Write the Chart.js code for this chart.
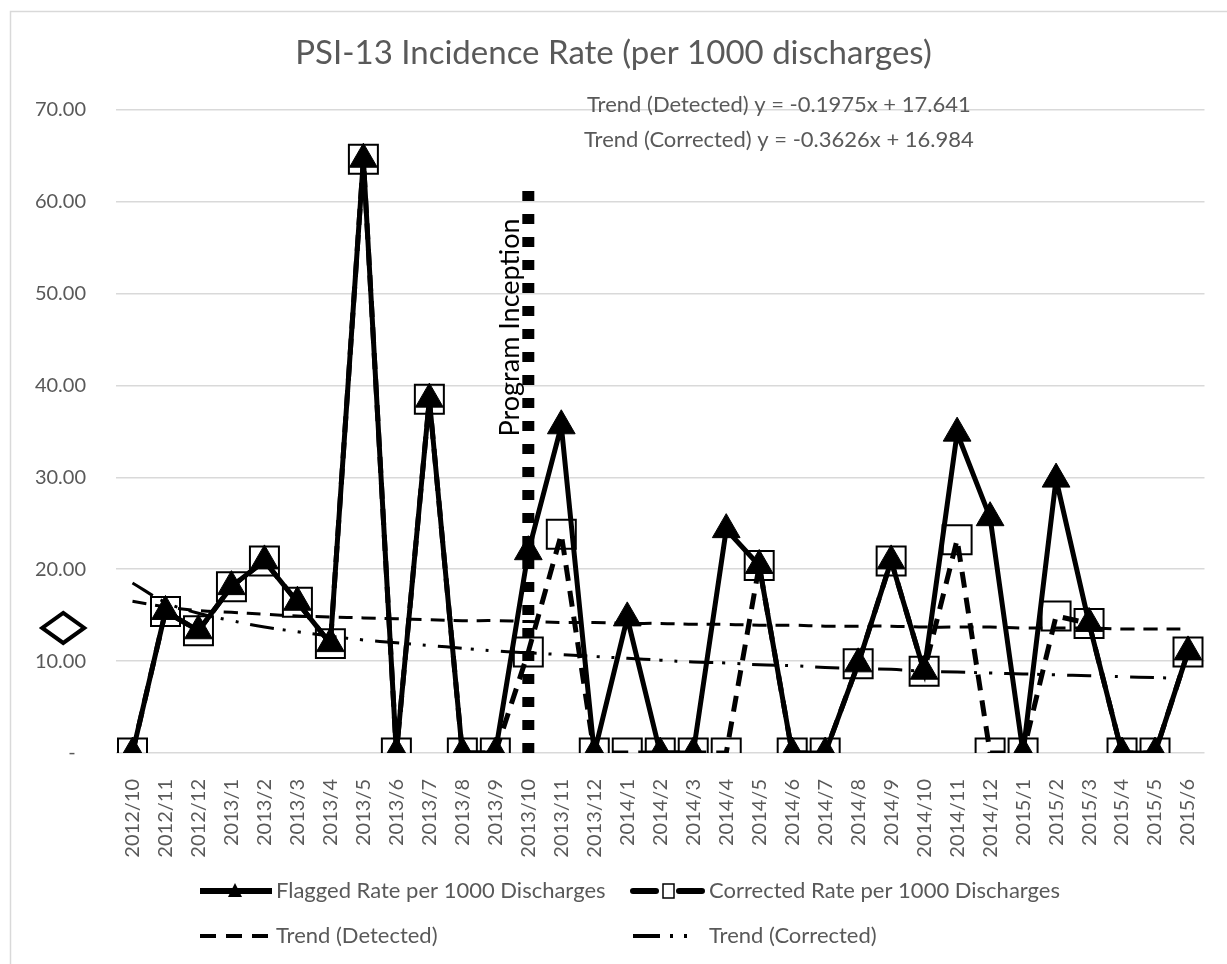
<!DOCTYPE html>
<html>
<head>
<meta charset="utf-8">
<script src="https://cdn.jsdelivr.net/npm/chart.js@4"></script>
<style>
html,body{margin:0;padding:0;background:#fff;}
</style>
</head>
<body>
<canvas id="myChart" width="1227" height="964"></canvas>
<script>
//月のラベル
var months = ['2012/10','2012/11','2012/12','2013/1','2013/2','2013/3','2013/4','2013/5','2013/6','2013/7','2013/8','2013/9',
  '2013/10','2013/11','2013/12','2014/1','2014/2','2014/3','2014/4','2014/5','2014/6','2014/7','2014/8','2014/9',
  '2014/10','2014/11','2014/12','2015/1','2015/2','2015/3','2015/4','2015/5','2015/6'];
//Flagged (triangles)
var flagged_rate = [0, 15.4, 13.3, 18.1, 20.9, 16.4, 11.9, 64.6, 0, 38.5,
  0, 0, 21.9, 35.6, 0, 14.7, 0, 0, 24.3, 20.4,
  0, 0, 9.7, 20.9, 8.9, 34.8, 25.6, 0, 29.8, 14.1,
  0, 0, 11.0];
//Corrected (squares)
var corrected_rate = [0, 15.4, 13.3, 18.1, 20.9, 16.4, 11.9, 64.6, 0, 38.5,
  0, 0, 11.0, 23.8, 0, 0, 0, 0, 0, 20.4,
  0, 0, 9.7, 20.9, 8.9, 23.2, 0, 0, 14.9, 14.1,
  0, 0, 11.0];
//trend lines
var trend_detected = [16.5, 15.9, 15.5, 15.3, 15.1, 14.9, 14.8, 14.7, 14.6, 14.5,
  14.4, 14.4, 14.3, 14.2, 14.2, 14.1, 14.1, 14.0, 14.0, 13.9,
  13.9, 13.8, 13.8, 13.8, 13.7, 13.7, 13.7, 13.6, 13.6, 13.6,
  13.5, 13.5, 13.5];
var trend_corrected = [18.5, 16.4, 15.2, 14.4, 13.7, 13.2, 12.7, 12.3, 12.0, 11.7,
  11.4, 11.1, 10.9, 10.7, 10.5, 10.3, 10.1, 9.9, 9.8, 9.6,
  9.5, 9.3, 9.2, 9.1, 8.9, 8.8, 8.7, 8.6, 8.5, 8.4,
  8.3, 8.2, 8.1];
var y_min = 0, y_max = 70, y_step = 10;
//縦の点線 (Program Inception)
var inception_month = '2013/10';
var inception_range = [0, 61.5];
var inception_label = 'Program Inception';
//左のひし形
var diamond_value = 13.6;
var diamond_index = -2.1;
var trend_texts = ['Trend (Detected) y = -0.1975x + 17.641', 'Trend (Corrected) y = -0.3626x + 16.984'];
var title_text = 'PSI-13 Incidence Rate (per 1000 discharges)';

var gray = '#595959';
var font_family = 'Lato';

//凡例の見た目
var legend_items = [
  {label: 'Flagged Rate per 1000 Discharges', width: 6, dash: [], marker: 'triangle'},
  {label: 'Corrected Rate per 1000 Discharges', width: 6, dash: [23, 23], marker: 'rect', cap: 'round'},
  {label: 'Trend (Detected)', width: 4, dash: [16, 10]},
  {label: 'Trend (Corrected)', width: 4, dash: [27, 10, 3, 11, 3, 30]}
];

var extras = {
  id: 'extras',
  beforeDraw: function(chart){
    var ctx = chart.ctx;
    ctx.save();
    ctx.fillStyle = '#fff';
    ctx.fillRect(0, 0, chart.width, chart.height);
    ctx.strokeStyle = '#d9d9d9';
    ctx.lineWidth = 1.5;
    ctx.strokeRect(10.5, 11.5, chart.width + 20, chart.height + 20);
    ctx.restore();
  },
  afterDatasetsDraw: function(chart){
    var ctx = chart.ctx;
    var xs = chart.scales.x, ys = chart.scales.y;
    ctx.save();
    //ひし形
    var dx = xs.getPixelForValue(diamond_index), dy = ys.getPixelForValue(diamond_value);
    ctx.beginPath();
    ctx.moveTo(dx, dy - 15);
    ctx.lineTo(dx + 21, dy);
    ctx.lineTo(dx, dy + 15);
    ctx.lineTo(dx - 21, dy);
    ctx.closePath();
    ctx.fillStyle = '#fff';
    ctx.fill();
    ctx.lineWidth = 4;
    ctx.strokeStyle = '#000';
    ctx.stroke();
    //Program Inception の文字
    var px = xs.getPixelForValue(months.indexOf(inception_month)) - 18;
    var py = ys.getPixelForValue(46.3);
    ctx.translate(px, py);
    ctx.rotate(-Math.PI / 2);
    ctx.font = '27px ' + font_family;
    ctx.fillStyle = '#000';
    ctx.textAlign = 'center';
    ctx.textBaseline = 'middle';
    ctx.fillText(inception_label, 0, 0);
    ctx.restore();
    //トレンドの式
    ctx.save();
    ctx.font = '22px ' + font_family;
    ctx.fillStyle = gray;
    ctx.textAlign = 'center';
    ctx.textBaseline = 'middle';
    var cx = chart.chartArea.left + (chart.chartArea.right - chart.chartArea.left) * 0.609;
    ctx.fillText(trend_texts[0], cx, ys.getPixelForValue(70.5));
    ctx.fillText(trend_texts[1], cx, ys.getPixelForValue(66.7));
    ctx.restore();
  },
  afterDraw: function(chart){
    //凡例を2列で描く
    var ctx = chart.ctx;
    var cols = [200, 633], rows = [891, 936];
    ctx.save();
    ctx.font = '22px ' + font_family;
    ctx.fillStyle = gray;
    ctx.textBaseline = 'middle';
    for(var i = 0; i < legend_items.length; i++){
      var it = legend_items[i];
      var x = cols[i % 2], y = rows[Math.floor(i / 2)];
      ctx.save();
      ctx.strokeStyle = '#000';
      ctx.lineWidth = it.width;
      ctx.lineCap = it.cap || 'butt';
      ctx.setLineDash(it.dash);
      ctx.beginPath();
      ctx.moveTo(x, y);
      ctx.lineTo(x + 72, y);
      ctx.stroke();
      ctx.setLineDash([]);
      if(it.marker == 'triangle'){
        ctx.fillStyle = '#000';
        ctx.beginPath();
        ctx.moveTo(x + 35, y - 8);
        ctx.lineTo(x + 42, y + 6);
        ctx.lineTo(x + 28, y + 6);
        ctx.closePath();
        ctx.fill();
      }else if(it.marker == 'rect'){
        ctx.fillStyle = '#fff';
        ctx.fillRect(x + 30, y - 7, 11, 14);
        ctx.lineWidth = 1.5;
        ctx.strokeRect(x + 30, y - 7, 11, 14);
      }
      ctx.restore();
      ctx.fillText(it.label, x + 76, y);
    }
    ctx.restore();
  }
};

var ctx = document.getElementById('myChart');
var data = {
  labels: months,
  datasets: [{
    label: 'Flagged Rate per 1000 Discharges',
    data: flagged_rate,
    borderColor: '#000',
    borderWidth: 5,
    pointStyle: 'triangle',
    pointRadius: 16,
    pointBackgroundColor: '#000',
    pointBorderColor: '#000',
    pointBorderWidth: 1,
    order: 1
  },{
    label: 'Corrected Rate per 1000 Discharges',
    data: corrected_rate,
    borderColor: '#000',
    borderWidth: 5,
    borderDash: [16, 10],
    pointStyle: 'rect',
    pointRadius: 20.5,
    pointBackgroundColor: 'rgba(0,0,0,0)',
    pointBorderColor: '#000',
    pointBorderWidth: 2,
    order: 2
  },{
    label: 'Trend (Detected)',
    data: trend_detected,
    borderColor: '#000',
    borderWidth: 3,
    borderDash: [14, 9],
    pointRadius: 0,
    tension: 0.4,
    order: 3
  },{
    label: 'Trend (Corrected)',
    data: trend_corrected,
    borderColor: '#000',
    borderWidth: 3,
    borderDash: [24, 9, 3, 12, 3, 12],
    pointRadius: 0,
    tension: 0.4,
    order: 4
  },{
    label: inception_label,
    data: [{x: inception_month, y: inception_range[0]}, {x: inception_month, y: inception_range[1]}],
    borderColor: '#000',
    borderWidth: 12,
    borderDash: [10, 13],
    pointRadius: 0,
    order: 5
  }]
};
var options = {
  responsive: false,
  animation: false,
  devicePixelRatio: 1,
  layout: {padding: 0},
  plugins: {
    legend: {display: false},
    tooltip: {enabled: false},
    title: {
      display: true,
      text: title_text,
      color: gray,
      font: {family: font_family, size: 33, weight: 'normal'},
      padding: {top: 34, bottom: 36}
    }
  },
  scales: {
    x: {
      offset: true,
      grid: {display: false},
      border: {display: false},
      ticks: {
        color: gray,
        font: {family: font_family, size: 20},
        minRotation: 90,
        maxRotation: 90,
        autoSkip: false,
        padding: 18
      },
      afterFit: function(scale){
        scale.height = 211;
        //右端の余白はここで決める (タイトルは中央のまま)
        scale.paddingLeft = 0;
        scale.paddingRight = 17;
      }
    },
    y: {
      min: y_min,
      max: y_max,
      grid: {color: '#d9d9d9', lineWidth: 1.5, drawTicks: false},
      border: {display: false},
      ticks: {
        stepSize: y_step,
        color: gray,
        font: {family: font_family, size: 20},
        padding: 30,
        callback: function(v){ return v == 0 ? '-  ' : v.toFixed(2); }
      },
      afterFit: function(scale){ scale.width = 116; }
    }
  }
};
var main_chart = new Chart(ctx, {type: 'line', data: data, options: options, plugins: [extras]});
</script>
</body>
</html>
